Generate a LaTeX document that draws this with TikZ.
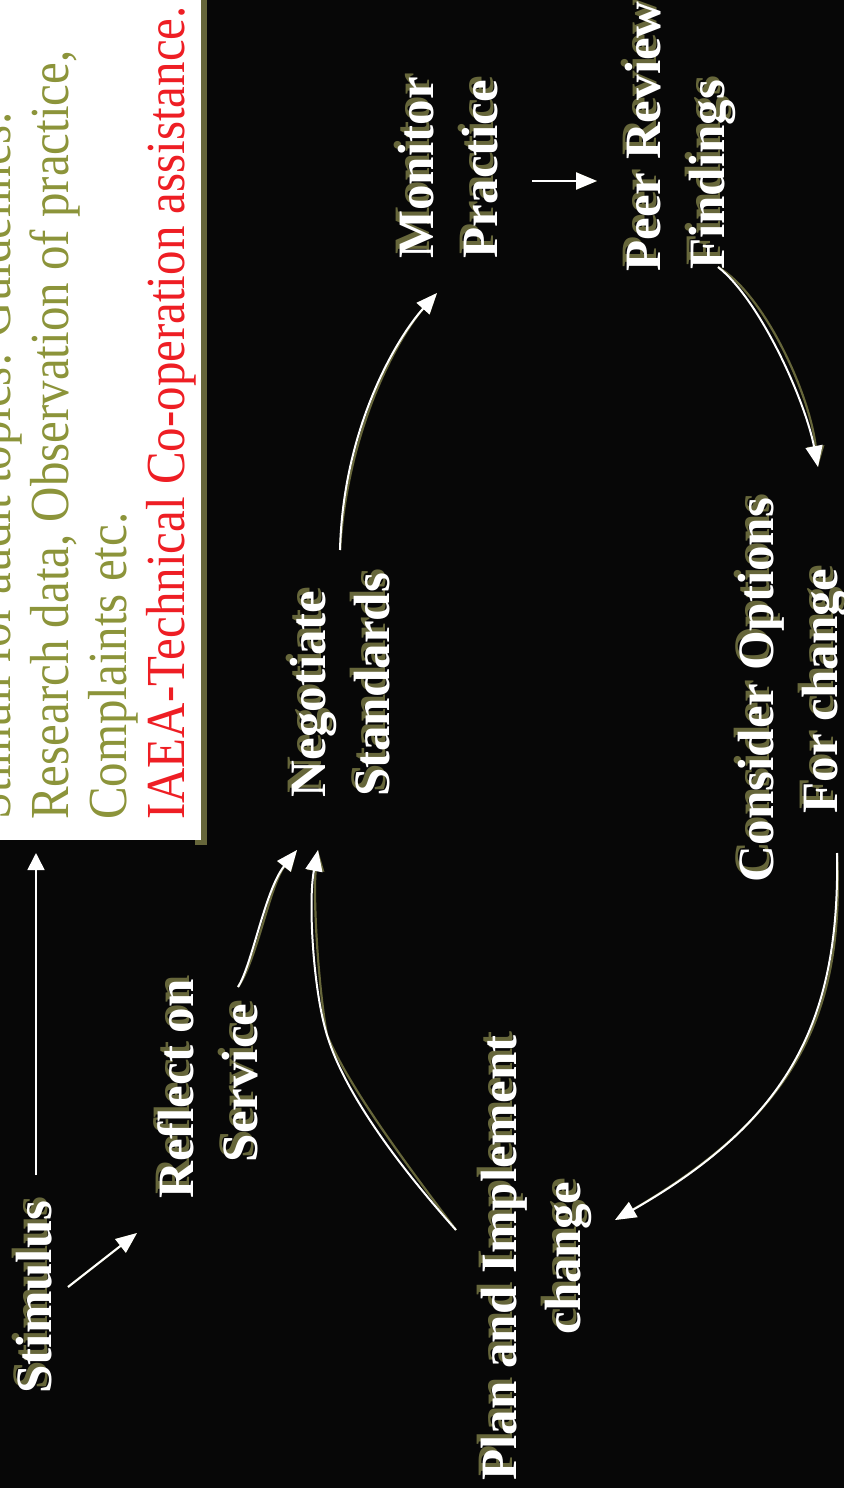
\documentclass[tikz,border=0pt]{standalone}
\usepackage{fontspec}
\setmainfont{Liberation Serif}
\usetikzlibrary{arrows.meta}
\definecolor{bg}{RGB}{7,7,7}
\definecolor{olivetxt}{RGB}{140,148,58}
\definecolor{oliveshd}{RGB}{102,102,58}
\definecolor{redtxt}{RGB}{238,30,36}
\tikzset{
  lbl/.style={rotate=90, inner sep=0pt, font=\fontsize{51}{60}\selectfont\bfseries, text=white},
  lblshd/.style={lbl, text=oliveshd},
  boxline/.style={rotate=90, anchor=base west, inner sep=0pt, font=\fontsize{55}{58}\selectfont},
  tipA/.tip={Triangle[length=21pt,width=17pt]},
  conn/.style={draw=white, line width=2pt, -tipA},
  connshd/.style={draw=oliveshd, line width=2.2pt, -tipA, shift={(5,-5)}},
}
\newcommand\labline[5][base]{%
  \node[lblshd, anchor=#1, xshift=4pt, yshift=4pt] at (#3,#4) {#5};
  \node[lbl, anchor=#1] (#2) at (#3,#4) {#5};}
\begin{document}
\begin{tikzpicture}[x=1pt, y=-1pt]
\useasboundingbox (0,0) rectangle (844,1488);
\fill[bg] (0,0) rectangle (844,1488);
% text box
\fill[oliveshd] (195,0) rectangle (207,845);
\fill[white] (0,0) rectangle (201,840);
\node[boxline, text=olivetxt] (b1) at (10,820) {\scalebox{0.89}[1]{Stimuli for audit topics: Guidelines.}};
\node[boxline, text=olivetxt] (b2) at (68,820) {\scalebox{0.89}[1]{Research data,  Observation of practice,}};
\node[boxline, text=olivetxt] (b3) at (126,820) {\scalebox{0.89}[1]{Complaints etc.}};
\node[boxline, text=redtxt] (b4) at (184,820) {\scalebox{0.89}[1]{IAEA-Technical Co-operation assistance.}};
% labels
\labline{stim}{51}{1297}{Stimulus}
\labline{refl1}{193}{1089}{Reflect on}
\labline{refl2}{257}{1083}{Service}
\labline{neg1}{325}{694}{Negotiate}
\labline{neg2}{389}{685}{Standards}
\labline{mon1}{433}{168}{Monitor}
\labline{mon2}{497}{169}{Practice}
\labline[base west]{peer1}{660}{272}{Peer Review}
\labline[base west]{peer2}{724}{270}{Findings}
\labline{cons1}{773}{690}{Consider Options}
\labline{cons2}{837}{691}{For change}
\labline{plan1}{516}{1258}{Plan and Implement}
\labline{plan2}{580}{1258}{change}
% connector end points
\coordinate (a1s) at (36,1175);  \coordinate (a1e) at (36,853);
\coordinate (a2s) at (68,1287);  \coordinate (a2e) at (137,1233);
\coordinate (a3s) at (238,987);  \coordinate (a3e) at (297,850);
\coordinate (a4s) at (456,1230); \coordinate (a4m) at (327,1035); \coordinate (a4e) at (318,850);
\coordinate (a5s) at (340,550);  \coordinate (a5e) at (437,293);
\coordinate (a6s) at (532,181);  \coordinate (a6e) at (597,181);
\coordinate (a7s) at (718,267);  \coordinate (a7e) at (818,467);
\coordinate (a8s) at (837,853);  \coordinate (a8e) at (615,1220);
% connectors
\draw[draw=white, line width=1.6pt, -{Triangle[length=17pt,width=17pt]}] (a1s) -- (a1e);
\draw[connshd] (a2s) -- (a2e);
\draw[conn] (a2s) -- (a2e);
\draw[connshd] (a3s) .. controls (252,965) and (265,890) .. (a3e);
\draw[conn] (a3s) .. controls (252,965) and (265,890) .. (a3e);
\draw[connshd] (a4s) .. controls (398,1165) and (344,1092) .. (a4m) .. controls (313,990) and (308,900) .. (a4e);
\draw[conn] (a4s) .. controls (398,1165) and (344,1092) .. (a4m) .. controls (313,990) and (308,900) .. (a4e);
\draw[connshd] (a5s) .. controls (343,430) and (395,340) .. (a5e);
\draw[conn] (a5s) .. controls (343,430) and (395,340) .. (a5e);
\draw[connshd] (a6s) -- (a6e);
\draw[conn] (a6s) -- (a6e);
\draw[connshd] (a7s) .. controls (760,300) and (805,400) .. (a7e);
\draw[conn] (a7s) .. controls (760,300) and (805,400) .. (a7e);
\draw[connshd] (a8s) .. controls (840,1020) and (790,1120) .. (a8e);
\draw[conn] (a8s) .. controls (840,1020) and (790,1120) .. (a8e);
\end{tikzpicture}
\end{document}
